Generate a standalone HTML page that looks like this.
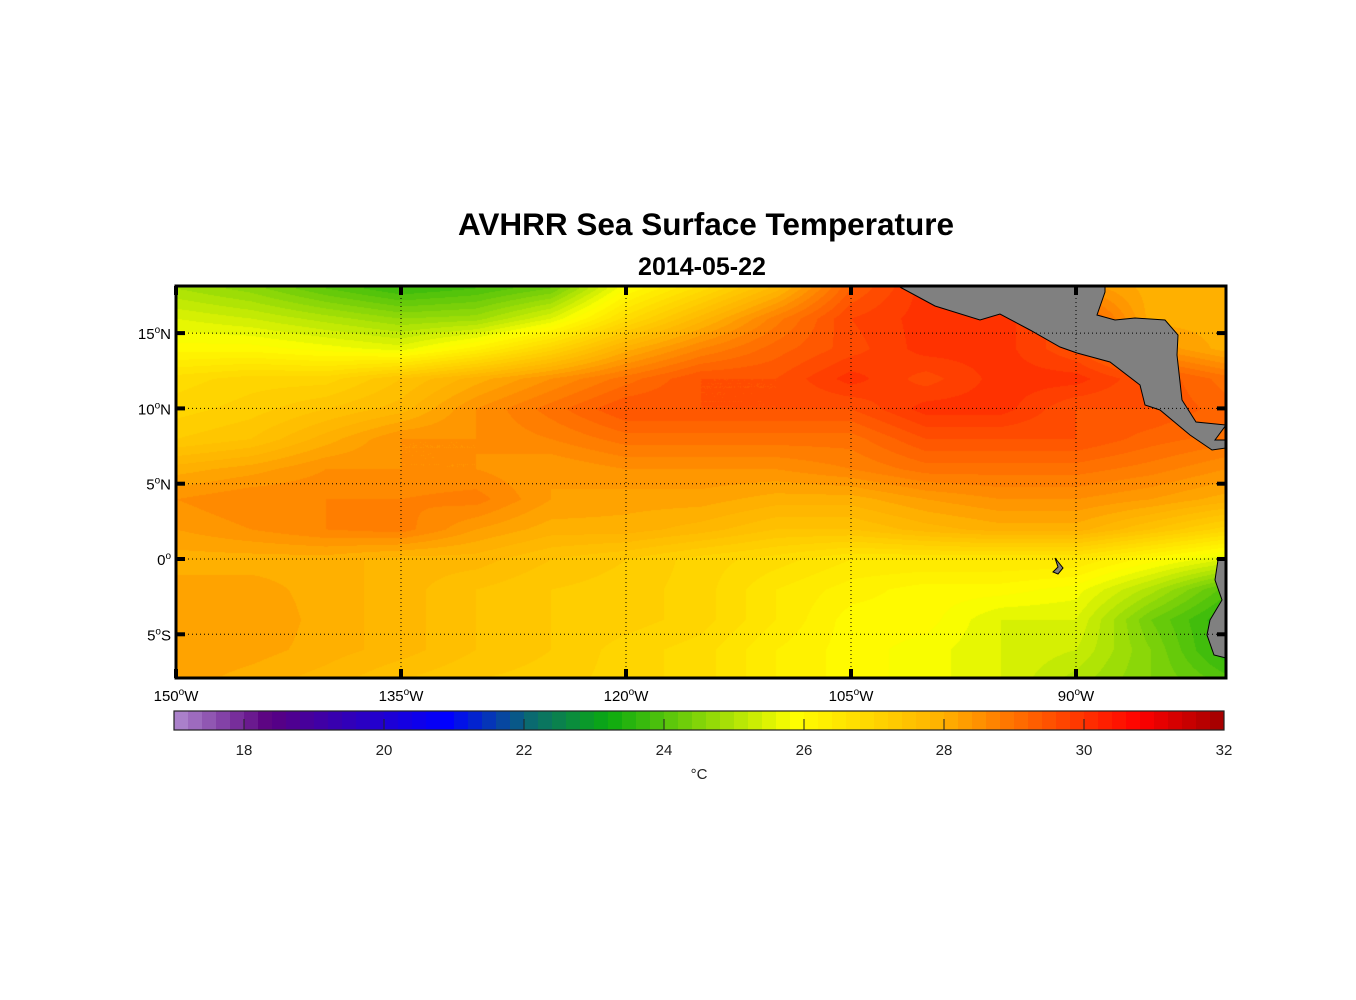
<!DOCTYPE html>
<html><head><meta charset="utf-8"><style>
body{margin:0;background:#fff;width:1356px;height:1000px;overflow:hidden;font-family:"Liberation Sans",Arial,sans-serif}
#wrap{position:relative;width:1356px;height:1000px}
canvas{position:absolute;left:176px;top:286px}
svg{position:absolute;left:0;top:0}
</style></head><body><div id="wrap">
<canvas id="map" width="1050" height="392"></canvas>
<svg id="ov" width="1356" height="1000"></svg>
</div>
<script>
const lons=[-150,-145,-140,-135,-130,-125,-120,-115,-110,-105,-100,-95,-90,-85,-80];
const lats=[18,16,14,12,10,8,6,4,2,0,-2,-4,-6,-8];
const sst=[
[24.9,24.6,24.1,23.7,23.9,24.3,25.9,26.8,27.8,29.3,30,30,28.5,28,28],
[25.5,25.3,25,24.7,24.8,25.5,26.8,27.8,28.8,29.7,30,30,29.5,28,28],
[26,26,25.8,25.6,26.2,27,28,28.7,29.2,29.6,30,30,29.5,28.5,28],
[26.8,27,27,27.5,28,28.5,29,29.5,29.5,30,29.6,30,30,29.5,29],
[27,27.2,27.5,27.8,28.5,29,29.5,29.5,29.5,29.5,30,30,29.5,29.5,29.2],
[27.3,27.5,28,28.5,28.5,28.7,29,29,29,29,29.5,29.5,29.5,29.2,29],
[28,28.2,28.5,28.5,28.5,28.3,28.5,28.5,28.5,28.7,29,29,29,28.8,28.5],
[28.5,28.7,28.7,28.7,28.8,28.3,28.2,28.2,28,28,28.3,28.5,28.5,28.3,28],
[28.3,28.5,28.7,28.8,28.3,28,28,27.8,27.5,27.5,27.8,28,28,27.5,27],
[28,28,28,27.8,27.8,27.5,27.3,27,26.8,26.5,26.5,26.5,26.5,26,25.5],
[28.2,28.2,28,27.8,27.5,27.3,27.2,27,26.5,26.2,26,26,25.8,25,24],
[28.3,28.3,28,27.8,27.5,27.3,27.2,27,26.5,26,26,25.5,25.5,24.3,23.5],
[28.3,28.2,28,27.8,27.5,27.3,27,26.8,26.3,26,25.8,25.5,25.3,24.5,23.5],
[28.2,28,27.8,27.5,27.3,27.2,27,26.8,26.3,26,25.8,25.5,25,24.5,24]];
const cbTicks=[18,20,22,24,26,28,30,32];
const lonTicks=[-150,-135,-120,-105,-90];
const latTicks=[15,10,5,0,-5];
const stops=[[17,[176,138,208]],[18.35,[90,0,128]],[20.9,[0,0,255]],[22.1,[10,106,112]],[23.2,[10,170,16]],[25.86,[255,255,0]],[28,[255,176,0]],[30.8,[255,0,0]],[32,[160,0,0]]];
function cmap(t){if(t<=stops[0][0])return stops[0][1];for(let i=1;i<stops.length;i++){if(t<=stops[i][0]){const a=stops[i-1],b=stops[i],f=(t-a[0])/(b[0]-a[0]);return a[1].map((v,k)=>Math.round(v+(b[1][k]-v)*f));}}return stops[stops.length-1][1];}
const X0=176,X1=1226,Y0=286,Y1=678;
const PPD=15.06;
const xs=lon=>X0+(lon+150)/70*(X1-X0);
const ys=lat=>559-lat*PPD;
const cx=t=>174+(t-17)*70;
const cv=document.getElementById('map'),ctx=cv.getContext('2d'),img=ctx.createImageData(1050,392);
for(let py=0;py<392;py++){const lat=(559-(py+Y0))/PPD;let r=(lats[0]-lat)/2;r=Math.max(0,Math.min(lats.length-1.0001,r));const r0=Math.floor(r),fr=r-r0;
for(let px=0;px<1050;px++){const lon=-150+(px+0.5)/1050*70;let c=(lon-lons[0])/5;c=Math.max(0,Math.min(lons.length-1.0001,c));const c0=Math.floor(c),fc=c-c0;
const t=sst[r0][c0]*(1-fr)*(1-fc)+sst[r0][c0+1]*(1-fr)*fc+sst[r0+1][c0]*fr*(1-fc)+sst[r0+1][c0+1]*fr*fc;
const q=Math.round(t*5)/5;const col=cmap(q);const i=(py*1050+px)*4;img.data[i]=col[0];img.data[i+1]=col[1];img.data[i+2]=col[2];img.data[i+3]=255;}}
ctx.putImageData(img,0,0);
const NS='http://www.w3.org/2000/svg',ov=document.getElementById('ov');
function el(tag,at,parent){const e=document.createElementNS(NS,tag);for(const k in at)e.setAttribute(k,at[k]);(parent||ov).appendChild(e);return e;}
const land1=el('path',{d:'M898,286 L935,306 L980,320 L1000,314 L1030,330 L1060,347 L1077,353 L1110,362 L1140,385 L1145,405 L1160,410 L1190,435 L1212,450 L1226,448 L1226,440 L1215,440 L1226,425 L1196,422 L1182,400 L1177,355 L1178,335 L1165,320 L1135,318 L1115,320 L1097,315 L1105,292 L1105,286 Z',fill:'#808080',stroke:'#000','stroke-width':1});


const land2=el('path',{d:'M1226,558 L1218,560 L1215,580 L1222,600 L1210,620 L1207,635 L1214,655 L1226,658 Z',fill:'#808080',stroke:'#000','stroke-width':1});


const gal=el('path',{d:'M1055,558 L1063,568 L1058,574 L1053,572 L1058,567 Z',fill:'#808080',stroke:'#000','stroke-width':1});


lonTicks.forEach(l=>{const x=xs(l);
const g=el('line',{x1:x,y1:Y0,x2:x,y2:Y1,stroke:'#000','stroke-width':1,'stroke-dasharray':'1,3'});
el('line',{x1:x,y1:Y0,x2:x,y2:Y0+9,stroke:'#000','stroke-width':4});el('line',{x1:x,y1:Y1-9,x2:x,y2:Y1,stroke:'#000','stroke-width':4});
const t=el('text',{x:x,y:701,'font-size':15,'text-anchor':'middle'});t.innerHTML=(-l)+'<tspan dy="-6" font-size="10">o</tspan><tspan dy="6">W</tspan>';
});
latTicks.forEach(l=>{const y=ys(l);
const g=el('line',{x1:X0,y1:y,x2:X1,y2:y,stroke:'#000','stroke-width':1,'stroke-dasharray':'1,3'});
el('line',{x1:X0,y1:y,x2:X0+9,y2:y,stroke:'#000','stroke-width':4});el('line',{x1:X1-9,y1:y,x2:X1,y2:y,stroke:'#000','stroke-width':4});
const hemi=l>0?'N':(l<0?'S':'');
const t=el('text',{x:171,y:y+6,'font-size':15,'text-anchor':'end'});t.innerHTML=Math.abs(l)+'<tspan dy="-6" font-size="10">o</tspan><tspan dy="6">'+hemi+'</tspan>';
});
const fr=el('rect',{x:X0,y:Y0,width:X1-X0,height:Y1-Y0,fill:'none',stroke:'#000','stroke-width':3});

const ti=el('text',{x:706,y:235,'font-size':31.5,'font-weight':'bold','text-anchor':'middle'});ti.textContent='AVHRR Sea Surface Temperature';

const st=el('text',{x:702,y:275,'font-size':25,'font-weight':'bold','text-anchor':'middle'});st.textContent='2014-05-22';

const cb=el('g',{});
for(let t=17;t<31.99;t+=0.2){const c=cmap(t+0.1);const x=cx(t);el('rect',{x:x,y:711,width:Math.min(14.5,1224-x),height:19,fill:'rgb('+c.join(',')+')'},cb);}
el('rect',{x:174,y:711,width:1050,height:19,fill:'none',stroke:'#222','stroke-width':1.2},cb);
cbTicks.forEach(v=>{const x=cx(v);el('line',{x1:x,y1:719,x2:x,y2:730,stroke:'#222','stroke-width':1},cb);
const t=el('text',{x:x,y:755,'font-size':15,'text-anchor':'middle',fill:'#222'});t.textContent=v;
});
const u=el('text',{x:699,y:779,'font-size':15,'text-anchor':'middle',fill:'#222'});u.textContent='°C';

</script></body></html>
